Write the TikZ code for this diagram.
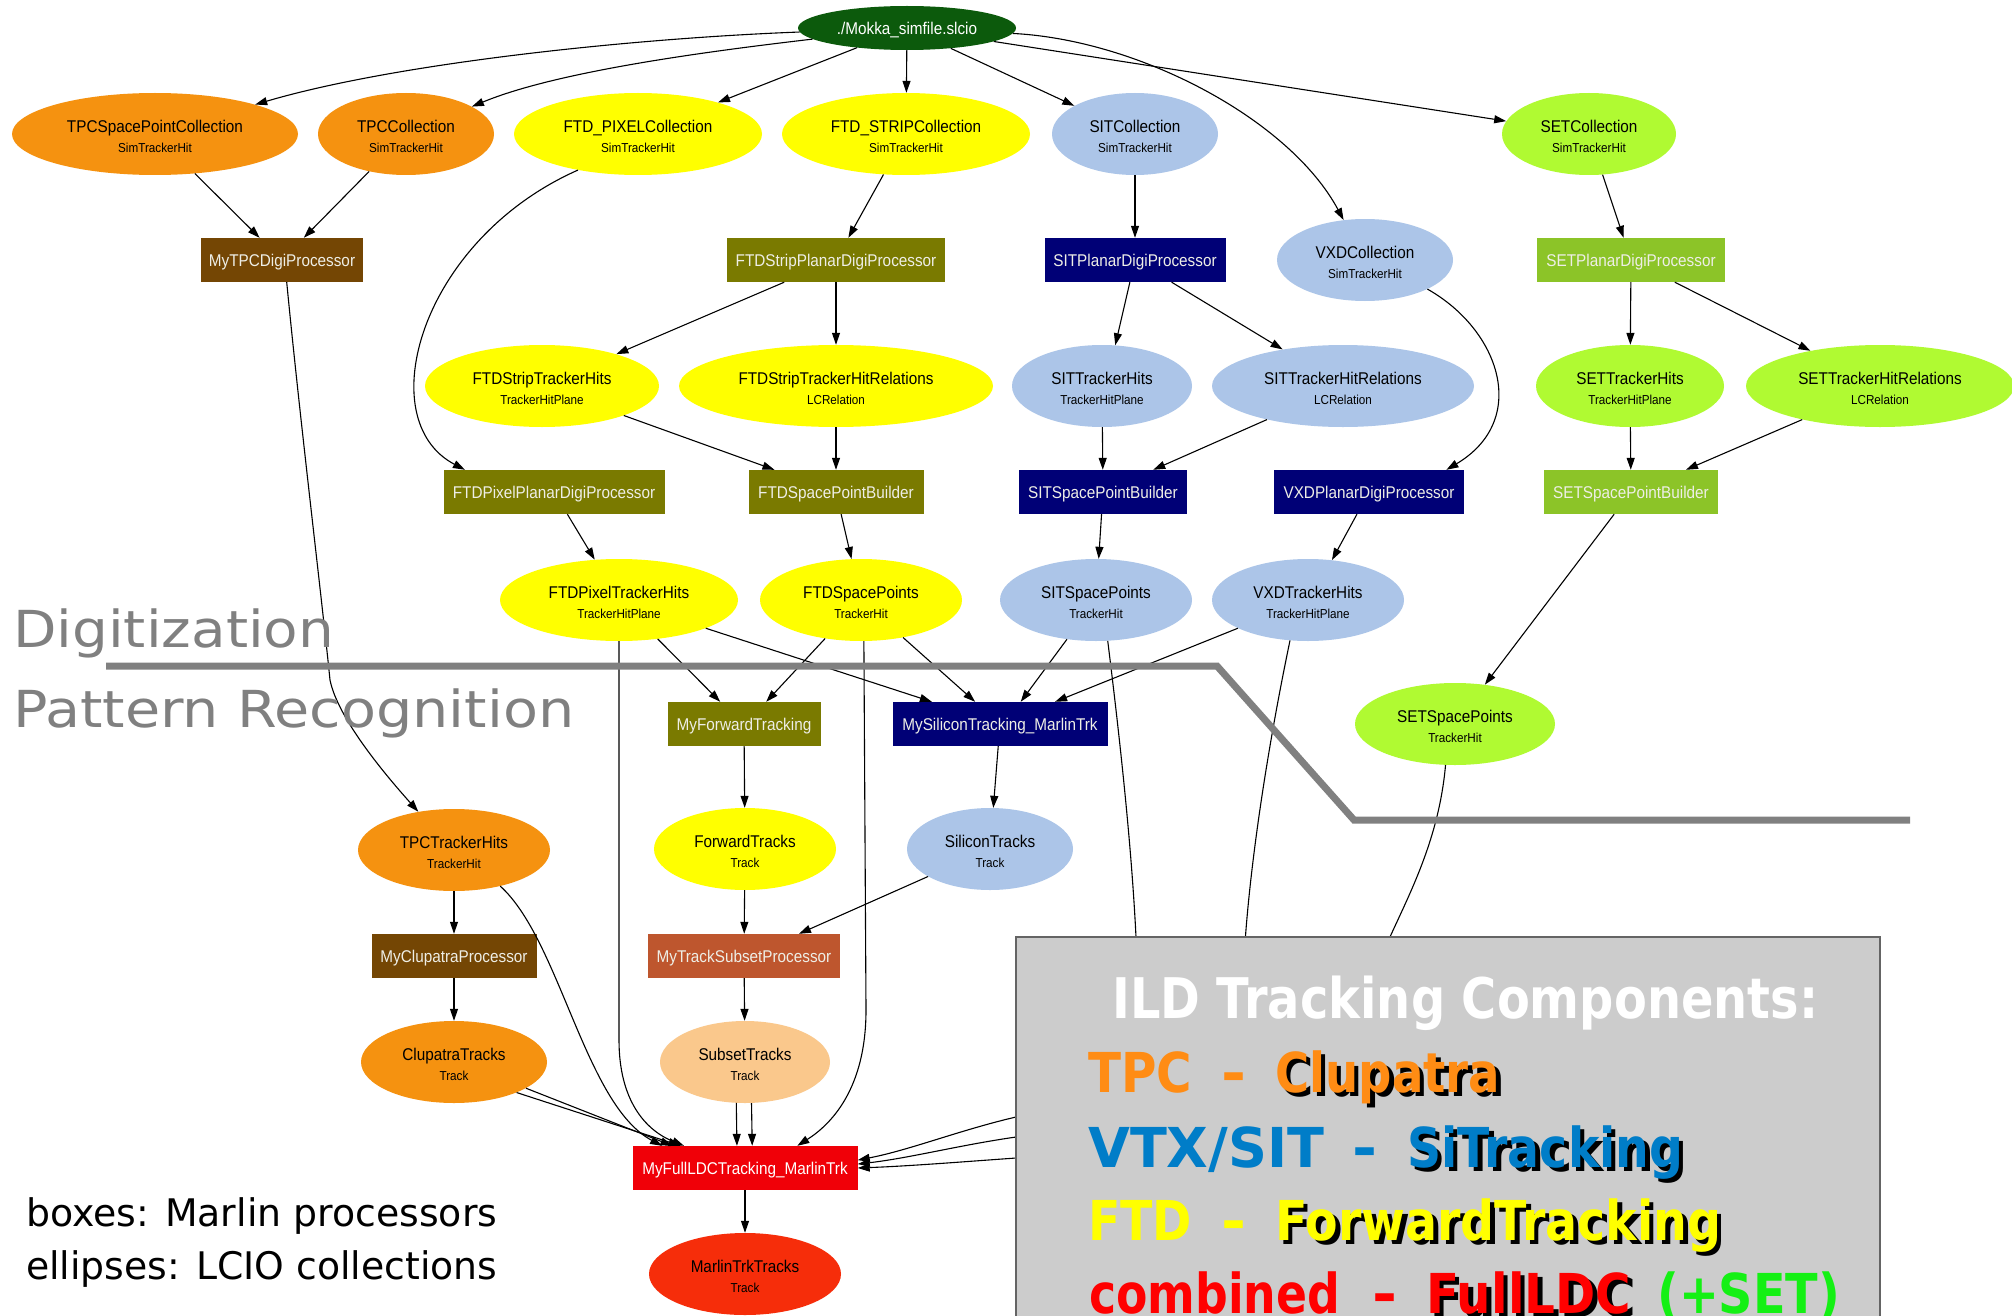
\documentclass[tikz,border=0pt]{standalone}
\usepackage{fontspec}
\usepackage{graphicx}
\usetikzlibrary{shapes.geometric,arrows.meta}
\newfontfamily\nf[FakeStretch=0.9]{Liberation Sans}
\newfontfamily\cf{DejaVu Sans}
\definecolor{cMokka}{RGB}{12,90,12}
\definecolor{cOrange}{RGB}{245,146,16}
\definecolor{cYellow}{RGB}{255,255,0}
\definecolor{cBlue}{RGB}{172,197,232}
\definecolor{cGY}{RGB}{176,250,50}
\definecolor{cBrown}{RGB}{116,70,4}
\definecolor{cOlive}{RGB}{122,122,0}
\definecolor{cNavy}{RGB}{0,0,118}
\definecolor{cSetBox}{RGB}{140,196,40}
\definecolor{cSienna}{RGB}{190,86,46}
\definecolor{cPeach}{RGB}{250,200,140}
\definecolor{cRed}{RGB}{240,0,8}
\definecolor{cRedOr}{RGB}{246,45,10}
\definecolor{cBoxText}{RGB}{238,238,230}
\definecolor{cPanel}{RGB}{204,204,204}
\definecolor{cPanelBorder}{RGB}{100,100,100}
\definecolor{cLine}{RGB}{128,128,128}
\definecolor{tOr}{RGB}{255,140,20}
\definecolor{tBlue}{RGB}{0,125,200}
\definecolor{tYel}{RGB}{255,255,0}
\definecolor{tRed}{RGB}{255,0,0}
\definecolor{tGreen}{RGB}{20,240,20}
\newcommand\twol[2]{\vbox{\baselineskip=19.5pt\lineskiplimit=-100pt\lineskip=0pt
  \halign{\hfil##\hfil\cr
  \vrule height 17.4pt depth 0pt width 0pt\nf\fontsize{17}{17}\selectfont #1\cr
  \nf\fontsize{13}{13}\selectfont #2\cr}}}
\newcommand\pw[2]{\resizebox{#1pt}{\height}{\cf\bfseries\fontsize{55}{55}\selectfont #2}}
\begin{document}
\begin{tikzpicture}[x=1pt,y=-1pt,
  coll/.style={ellipse, inner sep=0pt, minimum height=82pt, text=black},
  proc/.style={rectangle, inner sep=0pt, minimum height=44pt, text=cBoxText,
    text height=12.2pt, text depth=0pt, font=\nf\fontsize{17}{17}\selectfont},
  conn/.style={draw=black, line width=1.1pt, -{Triangle[length=12pt,width=8pt]}},
  lbl/.style={anchor=base west, inner sep=0pt},
]
\useasboundingbox (0,0) rectangle (2012,1316);
\clip (0,0) rectangle (2012,1316);
\fill[white] (0,0) rectangle (2012,1316);

% ---------- collections (ellipses)
\node[coll, fill=cMokka, minimum width=218pt, minimum height=44pt, text=white,
  text height=12.2pt, text depth=0pt, font=\nf\fontsize{17}{17}\selectfont] (mokka) at (907,28) {./Mokka\_simfile.slcio};
\node[coll, fill=cOrange, minimum width=286pt] (tpcsp) at (155,134) {\twol{TPCSpacePointCollection}{SimTrackerHit}};
\node[coll, fill=cOrange, minimum width=176pt] (tpcc) at (406,134) {\twol{TPCCollection}{SimTrackerHit}};
\node[coll, fill=cYellow, minimum width=248pt] (ftdpix) at (638,134) {\twol{FTD\_PIXELCollection}{SimTrackerHit}};
\node[coll, fill=cYellow, minimum width=248pt] (ftdstrip) at (906,134) {\twol{FTD\_STRIPCollection}{SimTrackerHit}};
\node[coll, fill=cBlue, minimum width=166pt] (sitc) at (1135,134) {\twol{SITCollection}{SimTrackerHit}};
\node[coll, fill=cGY, minimum width=174pt] (setc) at (1589,134) {\twol{SETCollection}{SimTrackerHit}};
\node[coll, fill=cBlue, minimum width=176pt] (vxdc) at (1365,260) {\twol{VXDCollection}{SimTrackerHit}};
\node[coll, fill=cYellow, minimum width=234pt] (ftdsth) at (542,386) {\twol{FTDStripTrackerHits}{TrackerHitPlane}};
\node[coll, fill=cYellow, minimum width=314pt] (ftdsthr) at (836,386) {\twol{FTDStripTrackerHitRelations}{LCRelation}};
\node[coll, fill=cBlue, minimum width=180pt] (sitth) at (1102,386) {\twol{SITTrackerHits}{TrackerHitPlane}};
\node[coll, fill=cBlue, minimum width=262pt] (sitthr) at (1343,386) {\twol{SITTrackerHitRelations}{LCRelation}};
\node[coll, fill=cGY, minimum width=188pt] (setth) at (1630,386) {\twol{SETTrackerHits}{TrackerHitPlane}};
\node[coll, fill=cGY, minimum width=268pt] (setthr) at (1880,386) {\twol{SETTrackerHitRelations}{LCRelation}};
\node[coll, fill=cYellow, minimum width=238pt] (ftdpth) at (619,600) {\twol{FTDPixelTrackerHits}{TrackerHitPlane}};
\node[coll, fill=cYellow, minimum width=202pt] (ftdsp) at (861,600) {\twol{FTDSpacePoints}{TrackerHit}};
\node[coll, fill=cBlue, minimum width=192pt] (sitsp) at (1096,600) {\twol{SITSpacePoints}{TrackerHit}};
\node[coll, fill=cBlue, minimum width=192pt] (vxdth) at (1308,600) {\twol{VXDTrackerHits}{TrackerHitPlane}};
\node[coll, fill=cGY, minimum width=200pt] (setsp) at (1455,724) {\twol{SETSpacePoints}{TrackerHit}};
\node[coll, fill=cOrange, minimum width=192pt] (tpcth) at (454,850) {\twol{TPCTrackerHits}{TrackerHit}};
\node[coll, fill=cYellow, minimum width=182pt] (fwdtr) at (745,849) {\twol{ForwardTracks}{Track}};
\node[coll, fill=cBlue, minimum width=166pt] (sitr) at (990,849) {\twol{SiliconTracks}{Track}};
\node[coll, fill=cOrange, minimum width=186pt] (clutr) at (454,1062) {\twol{ClupatraTracks}{Track}};
\node[coll, fill=cPeach, minimum width=170pt] (subtr) at (745,1062) {\twol{SubsetTracks}{Track}};
\node[coll, fill=cRedOr, minimum width=192pt] (mtrk) at (745,1274) {\twol{MarlinTrkTracks}{Track}};

% ---------- processors (boxes)
\node[proc, fill=cBrown, minimum width=162pt] (tpcdigi) at (282,260) {MyTPCDigiProcessor};
\node[proc, fill=cOlive, minimum width=218pt] (ftdstripdigi) at (836,260) {FTDStripPlanarDigiProcessor};
\node[proc, fill=cNavy, minimum width=181pt] (sitdigi) at (1135,260) {SITPlanarDigiProcessor};
\node[proc, fill=cSetBox, minimum width=188pt] (setdigi) at (1631,260) {SETPlanarDigiProcessor};
\node[proc, fill=cOlive, minimum width=221pt] (ftdpixdigi) at (554,492) {FTDPixelPlanarDigiProcessor};
\node[proc, fill=cOlive, minimum width=175pt] (ftdspb) at (836,492) {FTDSpacePointBuilder};
\node[proc, fill=cNavy, minimum width=168pt] (sitspb) at (1103,492) {SITSpacePointBuilder};
\node[proc, fill=cNavy, minimum width=190pt] (vxddigi) at (1369,492) {VXDPlanarDigiProcessor};
\node[proc, fill=cSetBox, minimum width=174pt] (setspb) at (1631,492) {SETSpacePointBuilder};
\node[proc, fill=cOlive, minimum width=153pt] (myfwd) at (744,724) {MyForwardTracking};
\node[proc, fill=cNavy, minimum width=215pt] (mysil) at (1000,724) {MySiliconTracking\_MarlinTrk};
\node[proc, fill=cBrown, minimum width=165pt] (myclu) at (454,956) {MyClupatraProcessor};
\node[proc, fill=cSienna, minimum width=192pt] (mysub) at (744,956) {MyTrackSubsetProcessor};
\node[proc, fill=cRed, minimum width=225pt, text=white] (myfull) at (745,1168) {MyFullLDCTracking\_MarlinTrk};

% ---------- connectors
\draw[conn] (mokka) .. controls (640,38) and (400,62) .. (tpcsp);
\draw[conn] (mokka) .. controls (720,50) and (560,70) .. (tpcc);
\draw[conn] (mokka) -- (ftdpix);
\draw[conn] (mokka) -- (ftdstrip);
\draw[conn] (mokka) -- (sitc);
\draw[conn] (mokka) -- (setc);
\draw[conn] (mokka) .. controls (1140,40) and (1290,120) .. (vxdc);
\draw[conn] (tpcsp) -- (tpcdigi);
\draw[conn] (tpcc) -- (tpcdigi);
\draw[conn] (ftdpix.211) .. controls (420,240) and (370,420) .. (ftdpixdigi.166.6);
\draw[conn] (ftdstrip) -- (ftdstripdigi);
\draw[conn] (ftdstripdigi) -- (ftdsth);
\draw[conn] (ftdstripdigi) -- (ftdsthr);
\draw[conn] (ftdsth) -- (ftdspb);
\draw[conn] (ftdsthr) -- (ftdspb);
\draw[conn] (ftdpixdigi) -- (ftdpth);
\draw[conn] (ftdspb) -- (ftdsp);
\draw[conn] (sitc) -- (sitdigi);
\draw[conn] (sitdigi) -- (sitth.72.8);
\draw[conn] (sitdigi) -- (sitthr);
\draw[conn] (sitth) -- (sitspb);
\draw[conn] (sitthr) -- (sitspb);
\draw[conn] (vxdc.335.3) .. controls (1500,330) and (1530,420) .. (vxddigi.16.8);
\draw[conn] (vxddigi) -- (vxdth.59.8);
\draw[conn] (sitspb) -- (sitsp);
\draw[conn] (setc) -- (setdigi);
\draw[conn] (setdigi) -- (setth);
\draw[conn] (setdigi) -- (setthr);
\draw[conn] (setth) -- (setspb);
\draw[conn] (setthr) -- (setspb.22.9);
\draw[conn] (setspb) -- (setsp);
\draw[conn] (tpcdigi.282.8) .. controls (300,420) and (322,600) .. (330,680)
   .. controls (338,720) and (390,780) .. (tpcth.133.6);
\draw[conn] (ftdpth) -- (myfwd.137.5);
\draw[conn] (ftdsp) -- (myfwd.45);
\draw[conn] (ftdpth) -- (mysil);
\draw[conn] (ftdsp) -- (mysil);
\draw[conn] (sitsp) -- (mysil.47.7);
\draw[conn] (vxdth) -- (mysil);
\draw[conn] (myfwd) -- (fwdtr);
\draw[conn] (mysil) -- (sitr);
\draw[conn] (fwdtr) -- (mysub);
\draw[conn] (sitr) -- (mysub.22.9);
\draw[conn] (mysub) -- (subtr);
\draw[conn] (tpcth) -- (myclu);
\draw[conn] (myclu) -- (clutr);
\draw[conn] (tpcth.322.7) .. controls (560,940) and (585,1105) .. (myfull.165.5);
\draw[conn] (ftdpth.south) -- (619,1040) .. controls (619,1100) and (645,1130) .. (myfull.160.2);
\draw[conn] (ftdsp.274) -- (866,1010) .. controls (866,1090) and (830,1125) .. (myfull.23.3);
\draw[conn] (clutr.340) -- (myfull.163.7);
\draw[conn] (clutr.334) -- (myfull.161.8);
\draw[conn] (subtr.258.9) -- (myfull.110);
\draw[conn] (subtr.279.7) -- (myfull.72.3);
\draw[conn] (sitsp.286.2) .. controls (1125,780) and (1134,880) .. (1137,960)
   .. controls (1140,1080) and (1080,1110) .. (1016,1117)
   .. controls (960,1130) and (910,1150) .. (myfull.4.6);
\draw[conn] (vxdth.246.5) .. controls (1265,760) and (1248,880) .. (1244,960)
   .. controls (1240,1100) and (1080,1132) .. (1016,1137)
   .. controls (960,1145) and (910,1158) .. (myfull.2.5);
\draw[conn] (setsp.257.6) .. controls (1438,850) and (1400,910) .. (1380,960)
   .. controls (1340,1080) and (1100,1152) .. (1016,1158)
   .. controls (960,1162) and (910,1166) .. (myfull.0.5);
\draw[conn] (myfull) -- (mtrk);

% ---------- overlay: separator line and texts
\draw[cLine, line width=7pt] (106,666) -- (1217,666) -- (1354,820) -- (1910,820);
\node[lbl, text=cLine] (digi) at (13,647) {\resizebox{321pt}{\height}{\cf\fontsize{51}{51}\selectfont Digitization}};
\node[lbl, text=cLine] (patrec) at (13,727) {\resizebox{561pt}{\height}{\cf\fontsize{51}{51}\selectfont Pattern Recognition}};
\node[lbl, text=black] (leg1) at (26,1226) {\resizebox{471pt}{\height}{\cf\fontsize{38}{38}\selectfont boxes: Marlin processors}};
\node[lbl, text=black] (leg2) at (26,1279) {\resizebox{471pt}{\height}{\cf\fontsize{38}{38}\selectfont ellipses: LCIO collections}};

% ---------- panel
\filldraw[fill=cPanel, draw=cPanelBorder, line width=1.5pt] (1016,937) rectangle (1880,1340);
\node[lbl, text=white] (ildt) at (1112,1018) {\resizebox{706pt}{\height}{\cf\bfseries\fontsize{56}{56}\selectfont ILD Tracking Components:}};
% TPC row
\node[lbl, text=tOr] (tpcw) at (1088,1092) {\pw{104}{TPC}};
\node[lbl, text=tOr] (dash1) at (1221,1092) {\pw{25}{-}};
\node[lbl, text=black] (clush) at (1279.5,1096.5) {\pw{225}{Clupatra}};
\node[lbl, text=tOr] (cluw) at (1275,1092) {\pw{225}{Clupatra}};
% VTX row
\node[lbl, text=tBlue] (vtxw) at (1088,1167) {\pw{236}{VTX/SIT}};
\node[lbl, text=tBlue] (dash2) at (1352,1167) {\pw{25}{-}};
\node[lbl, text=black] (sish) at (1411.5,1171.5) {\pw{276}{SiTracking}};
\node[lbl, text=tBlue] (siw) at (1407,1167) {\pw{276}{SiTracking}};
% FTD row
\node[lbl, text=tYel] (ftdw) at (1088,1240) {\pw{104}{FTD}};
\node[lbl, text=tYel] (dash3) at (1221,1240) {\pw{25}{-}};
\node[lbl, text=black] (fwsh) at (1279.5,1244.5) {\pw{446}{ForwardTracking}};
\node[lbl, text=tYel] (fww) at (1275,1240) {\pw{446}{ForwardTracking}};
% combined row
\node[lbl, text=tRed] (combw) at (1089,1313) {\pw{251}{combined}};
\node[lbl, text=tRed] (dash4) at (1372,1313) {\pw{25}{-}};
\node[lbl, text=black] (flsh) at (1430.5,1317.5) {\pw{205}{FullLDC}};
\node[lbl, text=tRed] (flw) at (1426,1313) {\pw{205}{FullLDC}};
\node[lbl, text=tGreen] (setw) at (1657,1313) {\pw{183}{(+SET)}};
\end{tikzpicture}
\end{document}
